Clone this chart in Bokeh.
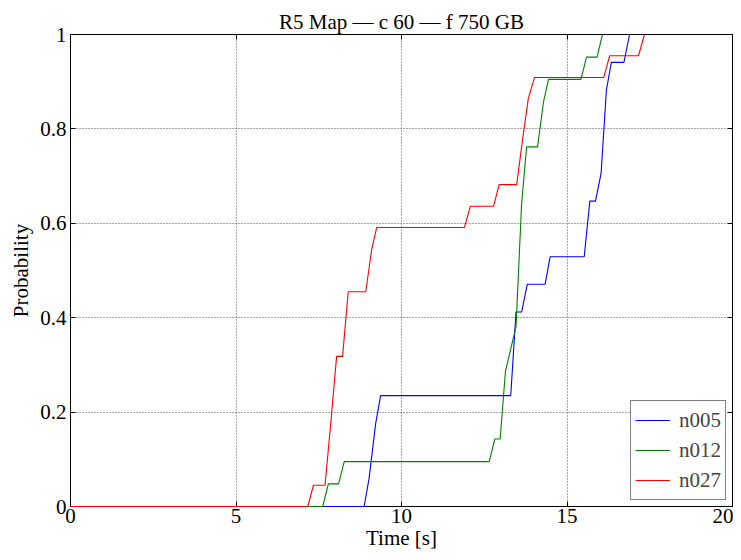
from bokeh.plotting import figure
from bokeh.models import Range1d, FixedTicker, LinearAxis, Legend, LegendItem
from bokeh.embed import file_html
from bokeh.resources import INLINE

# n005
t_n005 = [0.0, 8.87, 9.02, 9.22, 9.37, 13.30, 13.46, 13.63, 13.80, 14.34, 14.49,
          15.52, 15.69, 15.86, 16.03, 16.19, 16.34, 16.72, 16.89]
p_n005 = [0.0, 0.0, 0.059, 0.176, 0.235, 0.235, 0.412, 0.412, 0.471, 0.471, 0.529,
          0.529, 0.647, 0.647, 0.706, 0.882, 0.941, 0.941, 1.0]
# n012
t_n012 = [0.0, 7.62, 7.79, 8.10, 8.27, 12.65, 12.82, 12.98, 13.14, 13.46, 13.63,
          13.78, 14.11, 14.29, 14.44, 15.42, 15.59, 15.91, 16.07]
p_n012 = [0.0, 0.0, 0.048, 0.048, 0.095, 0.095, 0.143, 0.143, 0.286, 0.381, 0.643,
          0.762, 0.762, 0.857, 0.905, 0.905, 0.952, 0.952, 1.0]
# n027
t_n027 = [0.0, 7.17, 7.34, 7.69, 7.87, 8.04, 8.22, 8.39, 8.92, 9.10, 9.25, 11.90,
          12.08, 12.78, 12.95, 13.48, 13.65, 13.83, 14.02, 16.11, 16.29, 17.16, 17.34]
p_n027 = [0.0, 0.0, 0.045, 0.045, 0.182, 0.318, 0.318, 0.455, 0.455, 0.545, 0.591, 0.591,
          0.636, 0.636, 0.682, 0.682, 0.773, 0.864, 0.909, 0.909, 0.955, 0.955, 1.0]

x_ticks = [0, 5, 10, 15, 20]
y_ticks = [0, 0.2, 0.4, 0.6, 0.8, 1]
y_tick_labels = {0: "0", 0.2: "0.2", 0.4: "0.4", 0.6: "0.6", 0.8: "0.8", 1: "1"}

FONT = "Liberation Serif"
FS = "21px"

p = figure(width=733, height=552, output_backend="svg", toolbar_location=None,
           x_range=Range1d(0, 20), y_range=Range1d(0, 1),
           min_border_left=70, min_border_right=1, min_border_top=34, min_border_bottom=40,
           title="R5 Map — c 60 — f 750 GB")
p.title.align = "center"
p.title.text_font = FONT
p.title.text_font_style = "normal"
p.title.text_font_size = FS
p.title.text_color = "black"
p.title.standoff = 2

p.outline_line_color = "black"
p.outline_line_width = 1

def style_axis(ax):
    ax.major_tick_in = 5
    ax.major_tick_out = 0
    ax.minor_tick_line_color = None
    ax.axis_line_color = "black"
    ax.major_tick_line_color = "black"
    ax.major_label_text_font = FONT
    ax.major_label_text_font_size = FS
    ax.major_label_text_color = "black"
    ax.axis_label_text_font = FONT
    ax.axis_label_text_font_style = "normal"
    ax.axis_label_text_font_size = FS
    ax.axis_label_text_color = "black"

p.xaxis.ticker = FixedTicker(ticks=x_ticks)
p.yaxis.ticker = FixedTicker(ticks=y_ticks)
p.yaxis.major_label_overrides = y_tick_labels
p.xaxis.axis_label = "Time [s]"
p.yaxis.axis_label = "Probability"
p.xaxis.axis_label_standoff = 0
p.xaxis.major_label_standoff = 2
p.yaxis.axis_label_standoff = 4
p.yaxis.major_label_standoff = 4
style_axis(p.xaxis[0])
style_axis(p.yaxis[0])

ax_top = LinearAxis(ticker=FixedTicker(ticks=x_ticks))
ax_right = LinearAxis(ticker=FixedTicker(ticks=y_ticks))
style_axis(ax_top)
style_axis(ax_right)
ax_top.major_label_overrides = {t: "" for t in x_ticks}
ax_right.major_label_overrides = {t: "" for t in y_ticks}
ax_top.major_label_standoff = 0
ax_right.major_label_standoff = 0
p.add_layout(ax_top, "above")
p.add_layout(ax_right, "right")

p.grid.grid_line_color = "black"
p.grid.grid_line_alpha = 0.7
p.grid.grid_line_dash = "1 2"
p.grid.grid_line_width = 1

r1 = p.line(t_n005, p_n005, line_color="#0000ff", line_width=1.1, level="overlay")
r2 = p.line(t_n012, p_n012, line_color="#008000", line_width=1.1, level="overlay")
r3 = p.line(t_n027, p_n027, line_color="#ff0000", line_width=1.1, level="overlay")

legend = Legend(items=[LegendItem(label="n005", renderers=[r1]),
                       LegendItem(label="n012", renderers=[r2]),
                       LegendItem(label="n027", renderers=[r3])],
                location="bottom_right")
legend.margin = 6
legend.border_line_color = "black"
legend.border_line_width = 1
legend.background_fill_color = "white"
legend.background_fill_alpha = 1
legend.label_text_font = FONT
legend.label_text_font_size = FS
legend.glyph_width = 35
legend.label_standoff = 9
legend.padding = 4
legend.spacing = 0
legend.label_height = 30
legend.glyph_height = 30
p.add_layout(legend, "center")

open("out.html", "w").write(file_html(p, INLINE))
